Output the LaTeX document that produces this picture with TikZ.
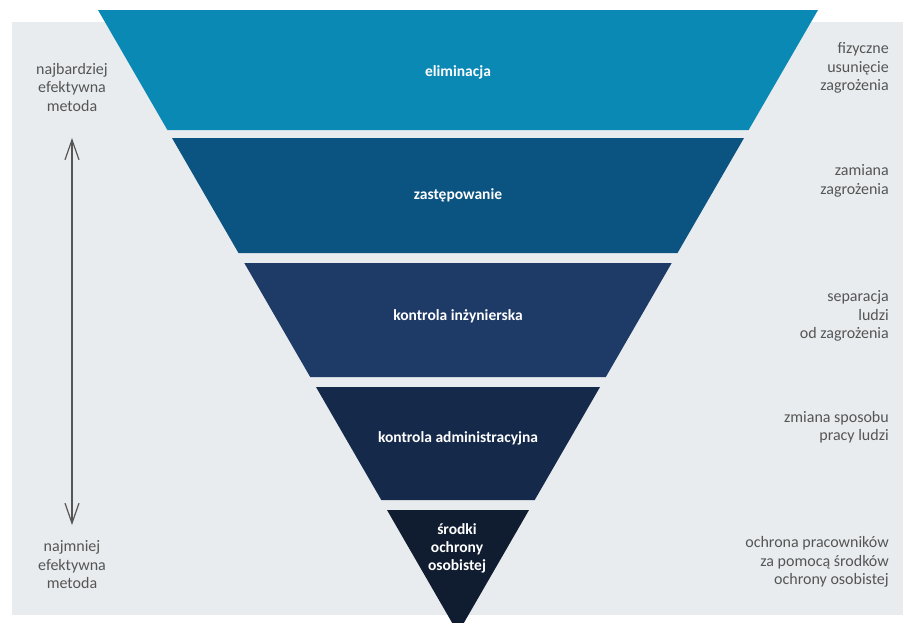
\documentclass[tikz,border=0pt]{standalone}
\usepackage{fontspec}
\setmainfont{Carlito}
\usetikzlibrary{arrows.meta}
\definecolor{bgc}{HTML}{E9ECEF}
\definecolor{bandA}{HTML}{0A89B5}
\definecolor{bandB}{HTML}{0B5380}
\definecolor{bandC}{HTML}{1E3A67}
\definecolor{bandD}{HTML}{15294A}
\definecolor{bandE}{HTML}{101C2F}
\definecolor{txtgray}{HTML}{555555}
\tikzset{
  sidetext/.style={text=txtgray, font=\fontsize{16}{18.5}\selectfont, inner sep=0pt},
  lefttext/.style={sidetext, align=center},
  righttext/.style={sidetext, align=right, anchor=east},
  bandtext/.style={text=white, font=\fontsize{15.5}{18}\selectfont\bfseries, align=center, inner sep=0pt},
  effarrow/.style={draw=txtgray, line width=1.2pt, {Straight Barb[length=20pt,width=14pt]}-{Straight Barb[length=20pt,width=14pt]}}
}
\begin{document}
\begin{tikzpicture}[x=1pt,y=-1pt]
\useasboundingbox (0,0) rectangle (909,622);
\fill[white] (0,0) rectangle (909,622);
\fill[bgc] (12,22) rectangle (903,615);
% slope s = 0.578, centre x = 458, half width 360 at y = 10
\def\cx{458}
\fill[bandA] (98,10) -- (818,10) -- (\cx+290.6,130) -- (\cx-290.6,130) -- cycle;
\fill[bandB] (\cx-286,138) -- (\cx+286,138) -- (\cx+219.5,253) -- (\cx-219.5,253) -- cycle;
\fill[bandC] (\cx-213.7,263) -- (\cx+213.7,263) -- (\cx+147.8,377) -- (\cx-147.8,377) -- cycle;
\fill[bandD] (\cx-142,387) -- (\cx+142,387) -- (\cx+76.7,500) -- (\cx-76.7,500) -- cycle;
\fill[bandE] (\cx-71,510) -- (\cx+71,510) -- (\cx,633) -- cycle;
% band labels
\node[bandtext] (elim) at (458,72) {eliminacja};
\node[bandtext] (zast) at (458,195) {zastępowanie};
\node[bandtext] (inz) at (458,316) {kontrola inżynierska};
\node[bandtext] (adm) at (458,438) {kontrola administracyjna};
\node[bandtext] (sro) at (457,548) {środki\\ochrony\\osobistej};
% left labels
\node[lefttext] (most) at (72,87) {najbardziej\\efektywna\\metoda};
\node[lefttext] (least) at (72,565) {najmniej\\efektywna\\metoda};
\coordinate (atop) at (72,138);
\coordinate (abot) at (72,525);
\draw[effarrow] (atop) -- (abot);
% right labels
\node[righttext] (r1) at (889,68) {fizyczne\\usunięcie\\zagrożenia};
\node[righttext] (r2) at (889,181) {zamiana\\zagrożenia};
\node[righttext] (r3) at (889,316) {separacja\\ludzi\\od zagrożenia};
\node[righttext] (r4) at (889,427) {zmiana sposobu\\pracy ludzi};
\node[righttext] (r5) at (889,562) {ochrona pracowników\\za pomocą środków\\ochrony osobistej};
\end{tikzpicture}
\end{document}
